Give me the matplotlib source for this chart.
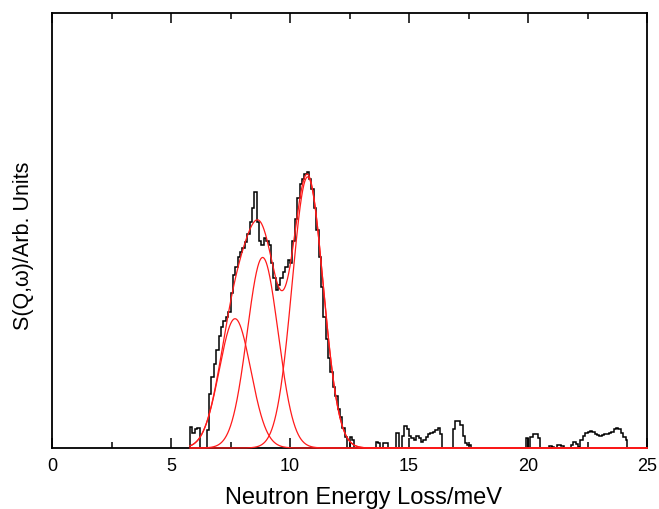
import numpy as np
import matplotlib
matplotlib.use("Agg")
import matplotlib.pyplot as plt
from matplotlib.ticker import MultipleLocator

plt.rcParams['font.family'] = ['Liberation Sans', 'DejaVu Sans']

# measured spectrum, 0.1 meV bins over the main band
main_edges = np.round(np.arange(5.8, 12.75, 0.1), 2)
main_counts = [0.078, 0.055, 0.07, 0.075, 0.0, 0.0, 0.0, 0.066, 0.20, 0.26,
               0.31, 0.36, 0.41, 0.445, 0.465, 0.48, 0.50, 0.57, 0.635, 0.665,
               0.70, 0.72, 0.735, 0.755, 0.785, 0.83, 0.88, 0.94, 0.83, 0.76,
               0.745, 0.77, 0.76, 0.745, 0.68, 0.625, 0.58, 0.60, 0.625, 0.645,
               0.665, 0.69, 0.68, 0.76, 0.84, 0.92, 0.97, 0.99, 1.005, 1.015,
               0.99, 0.95, 0.88, 0.80, 0.70, 0.59, 0.48, 0.40, 0.33, 0.28,
               0.225, 0.19, 0.145, 0.115, 0.075, 0.041, 0.0, 0.04, 0.03]

# weak high-energy tail (long empty stretches kept as single bins)
tail_edges = [12.7, 13.6, 13.7, 13.8, 13.9, 14.0, 14.1, 14.45, 14.6, 14.7, 14.8,
              14.9, 15.0, 15.1, 15.2, 15.3, 15.4, 15.5, 15.6, 15.7, 15.8, 15.9,
              16.0, 16.1, 16.2, 16.3, 16.4, 16.85, 16.95, 17.05, 17.15, 17.25,
              17.35, 17.45, 17.6, 19.9, 20.0, 20.1, 20.2, 20.4, 20.5, 20.9,
              21.0, 21.1, 21.2, 21.4, 21.5, 21.8, 21.9, 22.0, 22.1, 22.2, 22.3,
              22.4, 22.5, 22.6, 22.7, 22.8, 22.9, 23.0, 23.1, 23.2, 23.3, 23.4,
              23.5, 23.6, 23.7, 23.8, 23.9, 24.0, 24.1, 24.15]
tail_counts = [0.0, 0.023, 0.02, 0.0, 0.017, 0.02, 0.0, 0.056, 0.0, 0.045,
               0.082, 0.07, 0.045, 0.035, 0.03, 0.045, 0.035, 0.023, 0.03,
               0.04, 0.05, 0.055, 0.06, 0.066, 0.072, 0.05, 0.0, 0.07, 0.10,
               0.10, 0.085, 0.045, 0.02, 0.01, 0.0, 0.035, 0.0, 0.04, 0.052,
               0.035, 0.0, 0.006, 0.005, 0.0, 0.012, 0.008, 0.0, 0.012, 0.022,
               0.015, 0.005, 0.03, 0.045, 0.055, 0.06, 0.062, 0.058, 0.052,
               0.048, 0.043, 0.046, 0.05, 0.052, 0.055, 0.06, 0.068, 0.072,
               0.068, 0.055, 0.04, 0.03]

# fitted gaussian components
peak_centres = [7.69, 8.85, 10.74]
peak_heights = [0.475, 0.70, 0.996]
peak_sigmas = [0.66, 0.65, 0.65]

edges = np.concatenate([main_edges, tail_edges[1:]])
counts = np.concatenate([main_counts, tail_counts])

fig = plt.figure(figsize=(6.59, 5.09), dpi=100)
ax = fig.add_axes([52 / 659, 61 / 509, 595 / 659, 435.5 / 509])

ax.stairs(counts, edges, color="black", lw=1.1, zorder=2)

e = np.linspace(5.8, 25, 2000)
comps = [h * np.exp(-(e - c) ** 2 / (2 * s ** 2))
         for c, h, s in zip(peak_centres, peak_heights, peak_sigmas)]
for g in comps:
    ax.plot(e, g, color="#ff1a1a", lw=0.9, zorder=3, clip_on=False)
ax.plot(e, np.sum(comps, axis=0), color="#ff1a1a", lw=0.9, zorder=3, clip_on=False)

ax.set_xlim(0, 25)
ax.set_ylim(0, 1.6)
ax.xaxis.set_major_locator(MultipleLocator(5))
ax.xaxis.set_minor_locator(MultipleLocator(2.5))
ax.set_yticks([])
ax.tick_params(axis="x", which="both", direction="in", top=True, labelsize=13,
               pad=7, width=1.1)
ax.tick_params(axis="x", which="major", length=7)
ax.tick_params(axis="x", which="minor", length=4)
for sp in ax.spines.values():
    sp.set_linewidth(1.3)

ax.set_xlabel("Neutron Energy Loss/meV", fontsize=17)
ax.xaxis.set_label_coords(0.5235, -0.09)
ax.set_ylabel("S(Q,ω)/Arb. Units", fontsize=15.5)
ax.yaxis.set_label_coords(-0.031, 0.464)

fig.savefig("out.png", dpi=100)
